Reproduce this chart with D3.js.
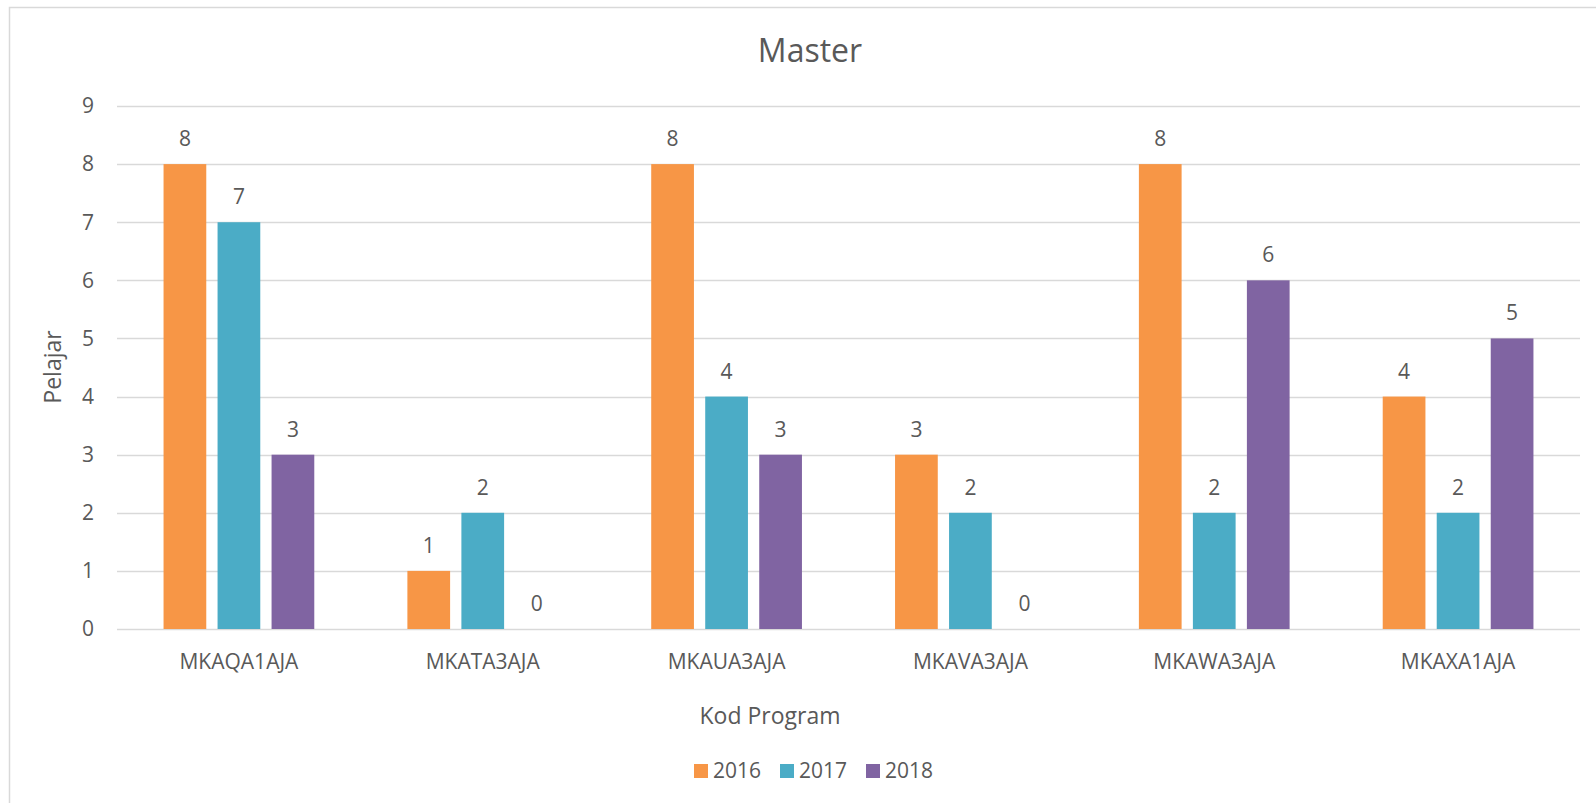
<!DOCTYPE html>
<html>
<head>
<meta charset="utf-8">
<script src="https://cdn.jsdelivr.net/npm/d3@7"></script>
<style>
  body { margin: 0; background: #fff; }
  svg text { font-family: "Open Sans", "Noto Sans", sans-serif; fill: #595959; }
</style>
</head>
<body>
<div id="chart"></div>
<script>
// data
var categories = ['MKAQA1AJA', 'MKATA3AJA', 'MKAUA3AJA', 'MKAVA3AJA', 'MKAWA3AJA', 'MKAXA1AJA'];
var years = ['2016', '2017', '2018'];
var v2016 = [8, 1, 8, 3, 8, 4];
var v2017 = [7, 2, 4, 2, 2, 2];
var v2018 = [3, 0, 3, 0, 6, 5];
var yTicks = [0, 1, 2, 3, 4, 5, 6, 7, 8, 9];
var colors = ['#F79646', '#4BACC6', '#8064A2'];

var seriesVals = { '2016': v2016, '2017': v2017, '2018': v2018 };

var W = 1596, H = 803;
var plot = { left: 117, right: 1580, top: 106, bottom: 629 };

var svg = d3.select('#chart').append('svg')
    .attr('width', W)
    .attr('height', H);

// chart area border (runs off the picture on right/bottom)
svg.append('rect')
    .attr('x', 9.5).attr('y', 7.5)
    .attr('width', W + 10).attr('height', H + 10)
    .attr('fill', '#fff')
    .attr('stroke', '#d9d9d9')
    .attr('stroke-width', 1.5);

var x0 = d3.scaleBand().domain(categories).range([plot.left, plot.right]);
var x1 = d3.scaleBand().domain(years).range([0, x0.bandwidth()])
    .paddingInner(0.209).paddingOuter(0.862);
var y = d3.scaleLinear().domain([0, 9]).range([plot.bottom, plot.top]);

// gridlines
svg.append('g')
    .selectAll('line')
    .data(yTicks)
    .enter().append('line')
    .attr('x1', plot.left).attr('x2', plot.right)
    .attr('y1', function (d) { return Math.round(y(d)) + 0.5; })
    .attr('y2', function (d) { return Math.round(y(d)) + 0.5; })
    .attr('stroke', '#d9d9d9')
    .attr('stroke-width', 1.5);

// y tick labels
svg.append('g')
    .selectAll('text')
    .data(yTicks)
    .enter().append('text')
    .attr('x', 94)
    .attr('y', function (d) { return y(d); })
    .attr('dy', '0.35em')
    .attr('text-anchor', 'end')
    .style('font-size', '21px')
    .text(String);

// bars
var groups = svg.append('g')
    .selectAll('g')
    .data(categories)
    .enter().append('g')
    .attr('transform', function (d) { return 'translate(' + x0(d) + ',0)'; });

function rows(c, i) {
    return years.map(function (yr, k) { return { yr: yr, k: k, v: seriesVals[yr][i] }; });
}

groups.selectAll('rect')
    .data(rows)
    .enter().append('rect')
    .attr('x', function (d) { return x1(d.yr); })
    .attr('width', x1.bandwidth())
    .attr('y', function (d) { return y(d.v); })
    .attr('height', function (d) { return y(0) - y(d.v); })
    .attr('fill', function (d) { return colors[d.k]; });

// value labels
groups.selectAll('text')
    .data(rows)
    .enter().append('text')
    .attr('x', function (d) { return x1(d.yr) + x1.bandwidth() / 2; })
    .attr('y', function (d) { return y(d.v) - 18; })
    .attr('text-anchor', 'middle')
    .style('font-size', '21px')
    .text(function (d) { return d.v; });

// category labels
svg.append('g')
    .selectAll('text')
    .data(categories)
    .enter().append('text')
    .attr('x', function (d) { return x0(d) + x0.bandwidth() / 2; })
    .attr('y', 662)
    .attr('dy', '0.35em')
    .attr('text-anchor', 'middle')
    .style('font-size', '21px')
    .text(String);

// titles
svg.append('text')
    .attr('x', 810).attr('y', 51)
    .attr('dy', '0.35em')
    .attr('text-anchor', 'middle')
    .style('font-size', '32px')
    .text('Master');

svg.append('text')
    .attr('x', 770).attr('y', 716)
    .attr('dy', '0.35em')
    .attr('text-anchor', 'middle')
    .style('font-size', '23px')
    .text('Kod Program');

svg.append('text')
    .attr('transform', 'translate(53,367) rotate(-90)')
    .attr('dy', '0.35em')
    .attr('text-anchor', 'middle')
    .style('font-size', '23px')
    .text('Pelajar');

// legend
var legendX = [694, 780, 866];
var legend = svg.append('g')
    .selectAll('g')
    .data(years)
    .enter().append('g')
    .attr('transform', function (d, i) { return 'translate(' + legendX[i] + ',764)'; });

legend.append('rect')
    .attr('width', 14).attr('height', 14)
    .attr('fill', function (d, i) { return colors[i]; });

legend.append('text')
    .attr('x', 19).attr('y', 7)
    .attr('dy', '0.35em')
    .style('font-size', '21px')
    .text(String);
</script>
</body>
</html>
